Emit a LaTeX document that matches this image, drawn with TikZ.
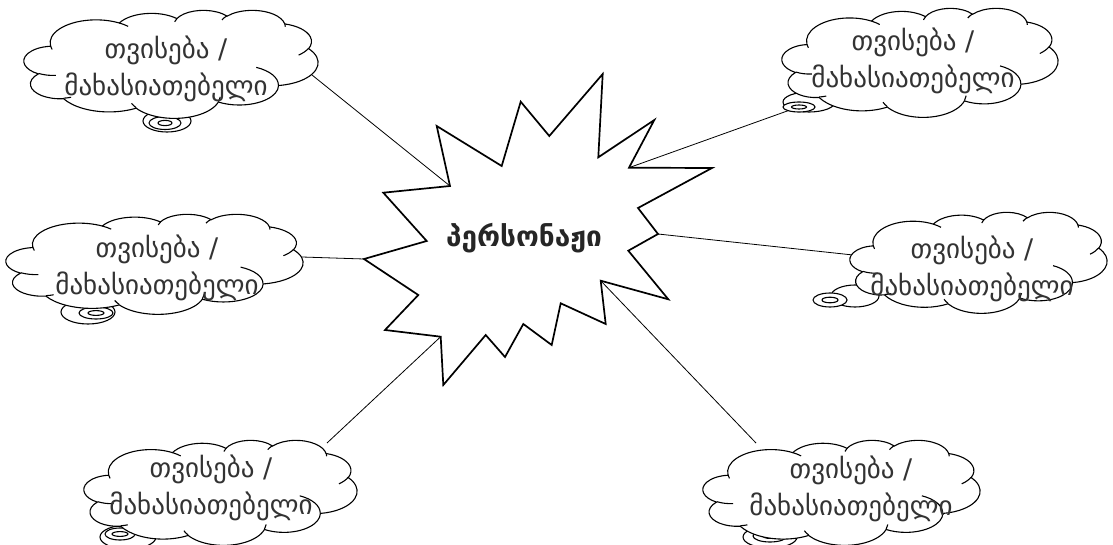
\documentclass[tikz,border=0pt]{standalone}
\usepackage{fontspec}
\setmainfont{DejaVu Sans}
\tikzset{
  conn/.style={draw=black, line width=0.8pt},
  starshape/.style={draw=black, line width=1.7pt, fill=white, line join=miter},
  cloudline/.style={draw=black, line width=1.1pt, fill=white},
  cloudinner/.style={draw=black, line width=1.1pt},
  bubble/.style={draw=black, line width=1.1pt, fill=white},
  cloudtext/.style={align=center, font=\fontsize{27}{37}\selectfont, text=black!80, inner sep=0pt},
  startext/.style={font=\bfseries\fontsize{28}{32}\selectfont, text=black!85, inner sep=0pt},
}
\def\carc#1#2#3#4{arc[x radius=#1pt, y radius=#2pt, start angle={-atan2(#1*sin(#3),#2*cos(#3))}, delta angle={-mod(atan2(#1*sin(#3+#4),#2*cos(#3+#4))-atan2(#1*sin(#3),#2*cos(#3))+720,360)}]}
\def\cloudbody{(3.900,-14.370) \carc{6.753}{9.190}{-190.4875}{123.7805} \carc{5.333}{7.267}{-144.1024}{89.9452} \carc{4.365}{5.945}{-145.8079}{99.7230} \carc{4.857}{6.595}{-130.9861}{117.2417} \carc{5.333}{7.273}{-78.7089}{109.0269} \carc{6.775}{9.220}{-46.2673}{130.2690} \carc{5.785}{7.867}{0.6250}{114.0333} \carc{6.752}{9.215}{22.4516}{115.1726} \carc{7.720}{10.543}{66.2426}{75.7110} \carc{4.360}{5.918}{-274.9421}{146.7356} \carc{4.345}{5.945}{-246.8285}{152.5189} -- cycle}
\def\cloudinnerpath{(4.693,-26.177) \carc{4.345}{5.945}{86.7420}{26.4295} (6.928,-34.899) \carc{4.360}{5.918}{73.6105}{11.4475} (16.478,-39.090) \carc{6.752}{9.215}{137.6242}{14.0811} (28.827,-34.751) \carc{6.752}{9.215}{6.4533}{15.9984} (34.129,-22.954) \carc{5.785}{7.867}{-70.2924}{70.9174} (41.798,-15.354) \carc{5.333}{7.273}{30.3180}{27.7515} (38.324,-5.426) \carc{4.857}{6.595}{-13.7443}{14.8582} (29.078,-3.952) \carc{4.857}{6.595}{-149.1815}{18.1976} (22.141,-4.720) \carc{4.365}{5.945}{-163.4943}{17.6881} (14.000,-5.192) \carc{6.753}{9.190}{-66.7070}{12.3194} (4.127,-15.789) \carc{6.753}{9.190}{157.6544}{11.8582}}
\newcommand\drawcloud[4]{%
  \begin{scope}[shift={(#1,#2)}, x=1pt, y=1pt, xscale=#3/43.2, yscale=#4/43.2]
    \path[cloudline] \cloudbody;
    \path[cloudinner] \cloudinnerpath;
  \end{scope}}
\newcommand\bubbles[9]{%
  \draw[bubble] (#1,#2) ellipse [x radius=#3pt, y radius=#4pt];
  \draw[bubble] (#5,#6) ellipse [x radius=#7pt, y radius=#8pt];
  \draw[bubble] (#5,#6) ellipse [x radius=#9pt, y radius=0.4*#8pt];}
\begin{document}
\begin{tikzpicture}[x=1pt,y=-1pt]
\useasboundingbox[fill=white] (0,0) rectangle (1113,545);
% star vertices
\coordinate (s1) at (505,357);
\coordinate (s2) at (485.7,335);
\coordinate (s3) at (443.3,385);
\coordinate (s4) at (440.7,336.7);
\coordinate (s5) at (385,330);
\coordinate (s6) at (418.3,295);
\coordinate (s7) at (364,259);
\coordinate (s8) at (426.7,241);
\coordinate (s9) at (383.3,192.7);
\coordinate (s10) at (450,186);
\coordinate (s11) at (436.7,126);
\coordinate (s12) at (501.7,166);
\coordinate (s13) at (520.7,101.7);
\coordinate (s14) at (549.3,136);
\coordinate (s15) at (602.7,74);
\coordinate (s16) at (598.3,157.3);
\coordinate (s17) at (654.3,120);
\coordinate (s18) at (629,167.7);
\coordinate (s19) at (712,168);
\coordinate (s20) at (638,208);
\coordinate (s21) at (658,234);
\coordinate (s22) at (628.3,250.7);
\coordinate (s23) at (668.3,299.3);
\coordinate (s24) at (600.7,280.7);
\coordinate (s25) at (605.7,324);
\coordinate (s26) at (560.7,303.3);
\coordinate (s27) at (551.7,345);
\coordinate (s28) at (523.3,324);
% cloud attachment points
\coordinate (c1) at (312,75);
\coordinate (c2) at (790,110);
\coordinate (c3) at (853,255);
\coordinate (c4) at (302,257);
\coordinate (c5) at (327,443);
\coordinate (c6) at (756,443);
% connectors
\draw[conn] (s10) -- (c1);
\draw[conn] (s18) -- (c2);
\draw[conn] (s21) -- (c3);
\draw[conn] (s7) -- (c4);
\draw[conn] (s4) -- (c5);
\draw[conn] (s24) -- (c6);
% star
\draw[starshape] (s1) -- (s2) -- (s3) -- (s4) -- (s5) -- (s6) -- (s7) -- (s8) -- (s9) -- (s10) -- (s11) -- (s12) -- (s13) -- (s14) -- (s15) -- (s16) -- (s17) -- (s18) -- (s19) -- (s20) -- (s21) -- (s22) -- (s23) -- (s24) -- (s25) -- (s26) -- (s27) -- (s28) -- cycle;
\node[startext] (star) at (524,238) {პერსონაჟი};
% cloud 1 (top left)
\bubbles{167}{121}{24}{11}{165}{123}{16}{6.5}{7}
\drawcloud{24}{10}{294}{108}
\node[cloudtext] (t1) at (166,69) {თვისება /\\მახასიათებელი};
% cloud 2 (top right)
\bubbles{809}{102}{26}{10}{799}{107}{16}{5}{7.5}
\drawcloud{782}{8}{276}{109}
\node[cloudtext] (t2) at (913,61) {თვისება /\\მახასიათებელი};
% cloud 3 (middle left)
\bubbles{88}{312}{27}{12}{96}{313}{17}{6}{8}
\drawcloud{6}{214}{297}{100}
\node[cloudtext] (t3) at (157,268) {თვისება /\\მახასიათებელი};
% cloud 4 (middle right)
\bubbles{855}{296}{24}{11}{830}{300}{17}{7}{8}
\drawcloud{850}{212}{257}{101}
\node[cloudtext] (t4) at (972,269) {თვისება /\\მახასიათებელი};
% cloud 5 (bottom left)
\bubbles{128}{537}{28}{12}{120}{534}{15}{6}{8}
\drawcloud{84}{440}{273}{105}
\node[cloudtext] (t5) at (211,488) {თვისება /\\მახასიათებელი};
% cloud 6 (bottom right)
\bubbles{770}{537}{27}{11}{770}{536}{17}{6}{7}
\drawcloud{703}{440}{277}{105}
\node[cloudtext] (t6) at (851,489) {თვისება /\\მახასიათებელი};
\end{tikzpicture}
\end{document}
